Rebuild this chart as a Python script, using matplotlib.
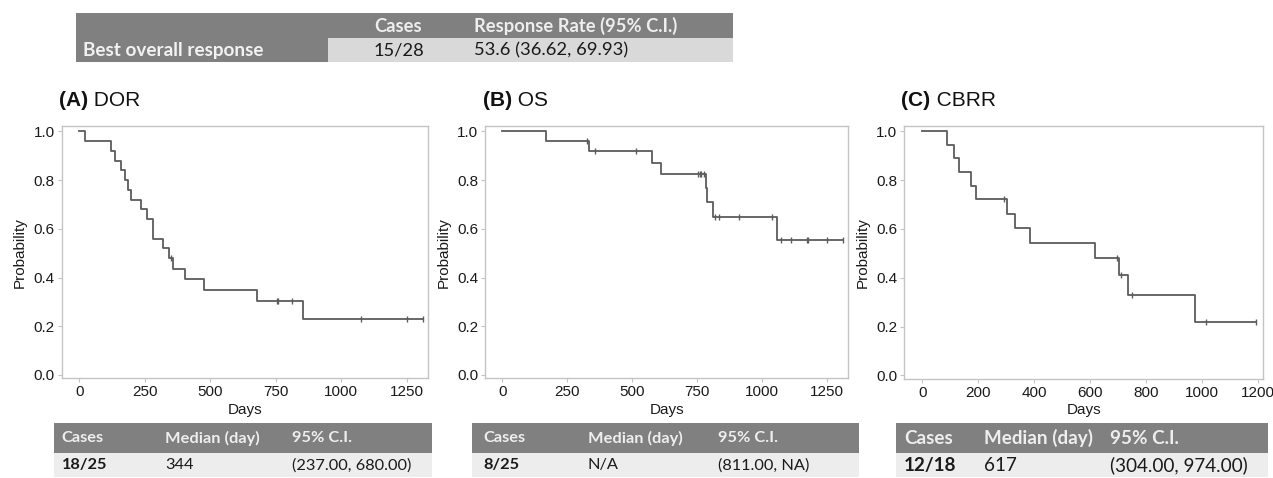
import matplotlib
matplotlib.use("Agg")
import matplotlib.pyplot as plt
from matplotlib.patches import Rectangle

# ---------------- data ----------------
dor_times = [0, 22, 120, 137, 158, 174, 187, 196, 237, 260, 280, 321, 344, 357, 405, 478, 680, 853]
dor_surv = [1.0, 0.96, 0.92, 0.88, 0.84, 0.80, 0.76, 0.72, 0.68, 0.64, 0.56, 0.52, 0.48, 0.436, 0.393, 0.349, 0.305, 0.229]
dor_end = 1311
dor_cens_t = [350, 753, 758, 813, 1074, 1252, 1311]
dor_cens_s = [0.48, 0.305, 0.305, 0.305, 0.229, 0.229, 0.229]

os_times = [0, 168, 335, 577, 609, 783, 788, 812, 1055]
os_surv = [1.0, 0.96, 0.918, 0.872, 0.826, 0.767, 0.708, 0.649, 0.556]
os_end = 1312
os_cens_t = [325, 357, 514, 754, 760, 764, 776, 817, 833, 912, 1036, 1072, 1109, 1171, 1175, 1250, 1312]
os_cens_s = [0.96, 0.918, 0.918, 0.826, 0.826, 0.826, 0.826, 0.649, 0.649, 0.649, 0.649,
             0.556, 0.556, 0.556, 0.556, 0.556, 0.556]

cbrr_times = [0, 90, 112, 130, 175, 191, 304, 331, 384, 617, 702, 736, 974]
cbrr_surv = [1.0, 0.944, 0.889, 0.833, 0.778, 0.722, 0.662, 0.602, 0.542, 0.482, 0.413, 0.330, 0.220]
cbrr_end = 1195
cbrr_cens_t = [292, 697, 710, 749, 1014, 1195]
cbrr_cens_s = [0.722, 0.482, 0.413, 0.330, 0.220, 0.220]

panel_letters = ["(A)", "(B)", "(C)"]
panel_names = ["DOR", "OS", "CBRR"]
xticks_ab = [0, 250, 500, 750, 1000, 1250]
xticks_c = [0, 200, 400, 600, 800, 1000, 1200]
yticks = [0.0, 0.2, 0.4, 0.6, 0.8, 1.0]

top_header = ["", "Cases", "Response Rate (95% C.I.)"]
top_row = ["Best overall response", "15/28", "53.6 (36.62, 69.93)"]

tbl_header = ["Cases", "Median (day)", "95% C.I."]
tbl_rows = [["18/25", "344", "(237.00, 680.00)"],
            ["8/25", "N/A", "(811.00, NA)"],
            ["12/18", "617", "(304.00, 974.00)"]]

# ---------------- figure ----------------
W, H = 1273, 478
fig = plt.figure(figsize=(W / 100, H / 100), dpi=100)
fig.patch.set_facecolor("white")

ov = fig.add_axes([0, 0, 1, 1])
ov.set_xlim(0, W)
ov.set_ylim(H, 0)
ov.axis("off")
ov.patch.set_alpha(0)

PLOT_FONT = "Liberation Sans"
TBL_FONT = ["Lato", "DejaVu Sans"]
LINE_C = "#5c5c5c"
FRAME_C = "#c4c4c4"
DARK = "#808080"
LIGHT_TOP = "#d9d9d9"
LIGHT_BOT = "#ededed"

frames = [
    (61.7, 428.0, 126.0, 378.3, (-67, 1331), xticks_ab),
    (485.0, 848.3, 126.0, 378.3, (-66.5, 1331), xticks_ab),
    (904.0, 1263.3, 126.0, 378.8, (-65.5, 1220), xticks_c),
]
curves = [
    (dor_times, dor_surv, dor_end, dor_cens_t, dor_cens_s),
    (os_times, os_surv, os_end, os_cens_t, os_cens_s),
    (cbrr_times, cbrr_surv, cbrr_end, cbrr_cens_t, cbrr_cens_s),
]

renderer = fig.canvas.get_renderer()

for i, ((l, r, t, b, xl, xt), (tt, ss, tend, ct, cs)) in enumerate(zip(frames, curves)):
    ax = fig.add_axes([l / W, 1 - b / H, (r - l) / W, (b - t) / H])
    ax.step(list(tt) + [tend], list(ss) + [ss[-1]], where="post", color=LINE_C, lw=1.3)
    ax.plot(ct, cs, linestyle="none", marker="|", markersize=5, mew=1.0, color=LINE_C)
    ax.set_xlim(*xl)
    ax.set_ylim(-0.0136, 1.0218)
    ax.set_xticks(xt)
    ax.set_yticks(yticks)
    ax.set_yticklabels([f"{v:.1f}" for v in yticks])
    for sp in ax.spines.values():
        sp.set_color(FRAME_C)
        sp.set_linewidth(1.0)
    ax.tick_params(colors=FRAME_C, labelcolor="#1a1a1a", length=3, width=0.8,
                   labelsize=11, pad=2)
    for lab in ax.get_xticklabels() + ax.get_yticklabels():
        lab.set_fontfamily(PLOT_FONT)
    ax.set_xlabel("Days", fontfamily=PLOT_FONT, fontsize=11, color="#1a1a1a", labelpad=1)
    ax.set_ylabel("Probability", fontfamily=PLOT_FONT, fontsize=11, color="#1a1a1a")
    ax.yaxis.set_label_coords(-41.5 / (r - l), 0.5)
    ax.xaxis.set_label_coords(0.5, -(410 - b) / (b - t))
    ax.xaxis.label.set_va("center")
    ax.yaxis.label.set_va("center")

    tx = l - 2.5
    ty = 100.5
    t1 = ov.text(tx, ty, panel_letters[i], fontfamily=PLOT_FONT, fontsize=15,
                 fontweight="bold", ha="left", va="center", color="#111111")
    bb = t1.get_window_extent(renderer=renderer)
    ov.text(tx + bb.width, ty, " " + panel_names[i], fontfamily=PLOT_FONT, fontsize=15,
            ha="left", va="center", color="#111111")

# ---------------- top table ----------------
tl, tr, ttop, tmid, tbot, tsplit = 76.0, 733.0, 13.3, 37.7, 62.3, 327.7
ov.add_patch(Rectangle((tl, ttop), tr - tl, tmid - ttop, facecolor=DARK, edgecolor="none"))
ov.add_patch(Rectangle((tl, tmid), tsplit - tl, tbot - tmid, facecolor=DARK, edgecolor="none"))
ov.add_patch(Rectangle((tsplit, tmid), tr - tsplit, tbot - tmid, facecolor=LIGHT_TOP, edgecolor="none"))
top_cols = [82.7, 374.0, 474.0]
for j, txt in enumerate(top_header):
    if txt:
        ov.text(top_cols[j], (ttop + tmid) / 2 + 0.5, txt, fontfamily=TBL_FONT, fontsize=13.2,
                fontweight="bold", color="#eeeeee", ha="left", va="center")
for j, txt in enumerate(top_row):
    col = "#f2f2f2" if j == 0 else "#1a1a1a"
    fw = "bold" if j == 0 else "normal"
    ov.text(top_cols[j], (tmid + tbot) / 2 + 0.5, txt, fontfamily=TBL_FONT,
            fontsize=13.6 if j == 0 else 13.2,
            fontweight=fw, color=col, ha="left", va="center")

# ---------------- bottom tables ----------------
btables = [
    (54.0, 431.7, [61.7, 165.0, 291.7], 11.8),
    (471.8, 858.8, [483.0, 587.8, 718.4], 11.8),
    (896.0, 1268.3, [904.0, 984.0, 1110.0], 13.6),
]
bh_top, bh_mid, bh_bot = 422.7, 452.7, 477.0
for k, (l, r, cols, fs) in enumerate(btables):
    ov.add_patch(Rectangle((l, bh_top), r - l, bh_mid - bh_top, facecolor=DARK, edgecolor="none"))
    ov.add_patch(Rectangle((l, bh_mid), r - l, bh_bot - bh_mid, facecolor=LIGHT_BOT, edgecolor="none"))
    for j, txt in enumerate(tbl_header):
        ov.text(cols[j], (bh_top + bh_mid) / 2 + 0.5, txt, fontfamily=TBL_FONT, fontsize=fs,
                fontweight="bold", color="#eeeeee", ha="left", va="center")
    for j, txt in enumerate(tbl_rows[k]):
        ov.text(cols[j], (bh_mid + bh_bot) / 2 + 0.5, txt, fontfamily=TBL_FONT, fontsize=fs,
                fontweight="bold" if j == 0 else "normal", color="#1a1a1a", ha="left", va="center")

fig.savefig("out.png", dpi=100)
